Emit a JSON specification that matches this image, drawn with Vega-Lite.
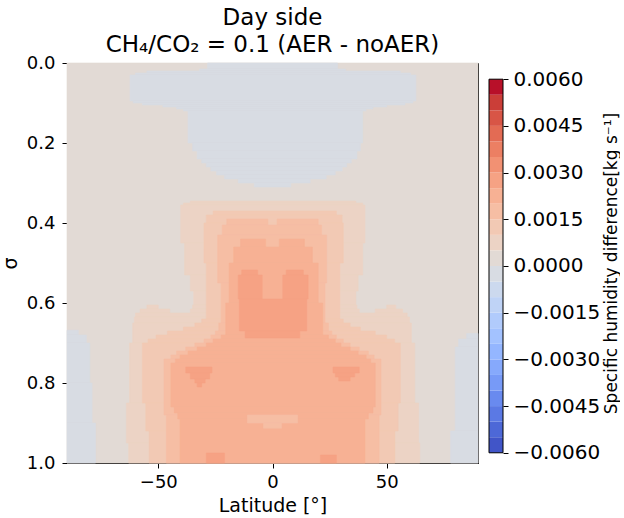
{
"$schema": "https://vega.github.io/schema/vega-lite/v6.json",
"background": "white",
"padding": {"left": 0, "top": 6, "right": 0, "bottom": 0},
"bounds": "flush",
"spacing": 11,
"config": {"font": "DejaVu Sans", "view": {"stroke": null},
  "axis": {"grid": false, "domainColor": "black", "tickColor": "black", "labelColor": "black", "titleColor": "black", "titleFontWeight": "normal", "labelFlush": false, "labelOverlap": false, "tickSize": 5}},
"datasets": {
"field": [
{"s0":0,"s1":1,"a":-90,"b":90,"q":0.00025},
{"s0":0,"s1":0.015,"a":-28.5,"b":28.5,"q":-0.00025},
{"s0":0.015,"s1":0.02,"a":-32,"b":32,"q":-0.00025},
{"s0":0.02,"s1":0.025,"a":-55,"b":56,"q":-0.00025},
{"s0":0.025,"s1":0.03,"a":-60,"b":60.5,"q":-0.00025},
{"s0":0.03,"s1":0.095,"a":-62.4,"b":62.8,"q":-0.00025},
{"s0":0.095,"s1":0.1,"a":-61,"b":61.5,"q":-0.00025},
{"s0":0.1,"s1":0.105,"a":-57,"b":58,"q":-0.00025},
{"s0":0.105,"s1":0.11,"a":-48,"b":50,"q":-0.00025},
{"s0":0.11,"s1":0.115,"a":-42,"b":44,"q":-0.00025},
{"s0":0.115,"s1":0.12,"a":-39,"b":41,"q":-0.00025},
{"s0":0.12,"s1":0.2,"a":-37,"b":39.5,"q":-0.00025},
{"s0":0.2,"s1":0.22,"a":-35,"b":38.5,"q":-0.00025},
{"s0":0.22,"s1":0.24,"a":-33,"b":37,"q":-0.00025},
{"s0":0.24,"s1":0.25,"a":-31,"b":34.5,"q":-0.00025},
{"s0":0.25,"s1":0.26,"a":-29,"b":32.5,"q":-0.00025},
{"s0":0.26,"s1":0.27,"a":-27,"b":30.5,"q":-0.00025},
{"s0":0.27,"s1":0.28,"a":-24.5,"b":27.5,"q":-0.00025},
{"s0":0.28,"s1":0.29,"a":-21,"b":23.5,"q":-0.00025},
{"s0":0.29,"s1":0.3,"a":-15,"b":16.5,"q":-0.00025},
{"s0":0.3,"s1":0.31,"a":-8,"b":8,"q":-0.00025},
{"s0":0.668,"s1":0.68,"a":-90,"b":-85,"q":-0.00025},
{"s0":0.68,"s1":0.7,"a":-90,"b":-81.5,"q":-0.00025},
{"s0":0.7,"s1":0.8,"a":-90,"b":-80,"q":-0.00025},
{"s0":0.8,"s1":0.9,"a":-90,"b":-79,"q":-0.00025},
{"s0":0.9,"s1":1,"a":-90,"b":-77.5,"q":-0.00025},
{"s0":0.676,"s1":0.69,"a":85,"b":90,"q":-0.00025},
{"s0":0.69,"s1":0.71,"a":81.5,"b":90,"q":-0.00025},
{"s0":0.71,"s1":0.92,"a":80,"b":90,"q":-0.00025},
{"s0":0.92,"s1":1,"a":78,"b":90,"q":-0.00025},
{"s0":0.345,"s1":0.35,"a":-36,"b":36.5,"q":0.00075},
{"s0":0.35,"s1":0.355,"a":-39,"b":39.5,"q":0.00075},
{"s0":0.355,"s1":0.45,"a":-40.2,"b":40.5,"q":0.00075},
{"s0":0.45,"s1":0.53,"a":-38.5,"b":39.5,"q":0.00075},
{"s0":0.53,"s1":0.57,"a":-36,"b":37.5,"q":0.00075},
{"s0":0.57,"s1":0.605,"a":-34.5,"b":36.5,"q":0.00075},
{"s0":0.605,"s1":0.615,"a":-55,"b":-50,"q":0.00075},
{"s0":0.605,"s1":0.615,"a":-35,"b":37,"q":0.00075},
{"s0":0.605,"s1":0.615,"a":50,"b":54,"q":0.00075},
{"s0":0.615,"s1":0.625,"a":-58,"b":-45,"q":0.00075},
{"s0":0.615,"s1":0.625,"a":-36,"b":38,"q":0.00075},
{"s0":0.615,"s1":0.625,"a":45,"b":57,"q":0.00075},
{"s0":0.625,"s1":0.635,"a":-60,"b":59,"q":0.00075},
{"s0":0.635,"s1":0.65,"a":-60.5,"b":60,"q":0.00075},
{"s0":0.65,"s1":0.7,"a":-61.2,"b":60.8,"q":0.00075},
{"s0":0.7,"s1":0.85,"a":-62.6,"b":62.3,"q":0.00075},
{"s0":0.85,"s1":0.95,"a":-64,"b":64,"q":0.00075},
{"s0":0.95,"s1":1,"a":-63,"b":64.5,"q":0.00075},
{"s0":0.37,"s1":0.38,"a":-26,"b":28,"q":0.00125},
{"s0":0.38,"s1":0.4,"a":-29,"b":30.5,"q":0.00125},
{"s0":0.4,"s1":0.5,"a":-30,"b":31,"q":0.00125},
{"s0":0.5,"s1":0.64,"a":-29,"b":29.5,"q":0.00125},
{"s0":0.64,"s1":0.65,"a":-31,"b":31,"q":0.00125},
{"s0":0.65,"s1":0.66,"a":-34,"b":34,"q":0.00125},
{"s0":0.66,"s1":0.67,"a":-39,"b":38.5,"q":0.00125},
{"s0":0.67,"s1":0.68,"a":-46,"b":45,"q":0.00125},
{"s0":0.68,"s1":0.69,"a":-51,"b":50,"q":0.00125},
{"s0":0.69,"s1":0.7,"a":-54.5,"b":53.5,"q":0.00125},
{"s0":0.7,"s1":0.85,"a":-57,"b":56,"q":0.00125},
{"s0":0.85,"s1":0.92,"a":-55.5,"b":55,"q":0.00125},
{"s0":0.92,"s1":1,"a":-54,"b":53.6,"q":0.00125},
{"s0":0.39,"s1":0.405,"a":-20,"b":-2,"q":0.00175},
{"s0":0.39,"s1":0.405,"a":2,"b":20,"q":0.00175},
{"s0":0.405,"s1":0.43,"a":-22,"b":21.5,"q":0.00175},
{"s0":0.43,"s1":0.55,"a":-24,"b":23.7,"q":0.00175},
{"s0":0.55,"s1":0.65,"a":-22.5,"b":23,"q":0.00175},
{"s0":0.65,"s1":0.67,"a":-23.5,"b":24.5,"q":0.00175},
{"s0":0.67,"s1":0.68,"a":-25,"b":26,"q":0.00175},
{"s0":0.68,"s1":0.69,"a":-27,"b":28,"q":0.00175},
{"s0":0.69,"s1":0.7,"a":-30,"b":31,"q":0.00175},
{"s0":0.7,"s1":0.71,"a":-34,"b":34,"q":0.00175},
{"s0":0.71,"s1":0.72,"a":-38,"b":38,"q":0.00175},
{"s0":0.72,"s1":0.73,"a":-42,"b":42,"q":0.00175},
{"s0":0.73,"s1":0.74,"a":-44.5,"b":44.5,"q":0.00175},
{"s0":0.74,"s1":0.88,"a":-47.5,"b":47.5,"q":0.00175},
{"s0":0.88,"s1":1,"a":-46.5,"b":46.7,"q":0.00175},
{"s0":0.44,"s1":0.46,"a":-14,"b":-3,"q":0.00225},
{"s0":0.44,"s1":0.46,"a":3,"b":14,"q":0.00225},
{"s0":0.46,"s1":0.5,"a":-17,"b":17.5,"q":0.00225},
{"s0":0.5,"s1":0.6,"a":-19,"b":20,"q":0.00225},
{"s0":0.6,"s1":0.68,"a":-20.5,"b":22,"q":0.00225},
{"s0":0.68,"s1":0.69,"a":-22.5,"b":24.5,"q":0.00225},
{"s0":0.69,"s1":0.7,"a":-26,"b":27.5,"q":0.00225},
{"s0":0.7,"s1":0.71,"a":-29,"b":30,"q":0.00225},
{"s0":0.71,"s1":0.72,"a":-33,"b":34,"q":0.00225},
{"s0":0.72,"s1":0.73,"a":-37,"b":37.5,"q":0.00225},
{"s0":0.73,"s1":0.74,"a":-40.5,"b":41,"q":0.00225},
{"s0":0.74,"s1":0.75,"a":-42.5,"b":43,"q":0.00225},
{"s0":0.75,"s1":0.86,"a":-44.5,"b":45,"q":0.00225},
{"s0":0.86,"s1":0.875,"a":-43,"b":44,"q":0.00225},
{"s0":0.875,"s1":0.89,"a":-41.5,"b":42,"q":0.00225},
{"s0":0.89,"s1":1,"a":-40.5,"b":40.5,"q":0.00225},
{"s0":0.5175,"s1":0.53,"a":-13.5,"b":-6.5,"q":0.00275},
{"s0":0.5175,"s1":0.53,"a":6,"b":13.5,"q":0.00275},
{"s0":0.53,"s1":0.59,"a":-15,"b":-4.5,"q":0.00275},
{"s0":0.53,"s1":0.59,"a":4.5,"b":15.6,"q":0.00275},
{"s0":0.59,"s1":0.67,"a":-14.5,"b":15,"q":0.00275},
{"s0":0.67,"s1":0.6875,"a":-12,"b":12,"q":0.00275},
{"s0":0.76,"s1":0.775,"a":-38,"b":-26.5,"q":0.00275},
{"s0":0.775,"s1":0.79,"a":-36,"b":-27.5,"q":0.00275},
{"s0":0.79,"s1":0.8,"a":-34,"b":-29.5,"q":0.00275},
{"s0":0.8,"s1":0.81,"a":-33,"b":-31,"q":0.00275},
{"s0":0.76,"s1":0.775,"a":26.5,"b":38,"q":0.00275},
{"s0":0.775,"s1":0.785,"a":27.5,"b":36,"q":0.00275},
{"s0":0.785,"s1":0.795,"a":29,"b":34,"q":0.00275},
{"s0":0.975,"s1":1,"a":-29,"b":-21,"q":0.00275},
{"s0":0.98,"s1":1,"a":21,"b":28,"q":0.00275},
{"s0":0.88,"s1":0.9,"a":-11,"b":11,"q":0.00175},
{"s0":0.9,"s1":0.913,"a":-4,"b":4,"q":0.00175}
],
"bar": [
{"lo":-0.006,"hi":-0.0055,"v":-0.00575},{"lo":-0.0055,"hi":-0.005,"v":-0.00525},{"lo":-0.005,"hi":-0.0045,"v":-0.00475},{"lo":-0.0045,"hi":-0.004,"v":-0.00425},
{"lo":-0.004,"hi":-0.0035,"v":-0.00375},{"lo":-0.0035,"hi":-0.003,"v":-0.00325},{"lo":-0.003,"hi":-0.0025,"v":-0.00275},{"lo":-0.0025,"hi":-0.002,"v":-0.00225},
{"lo":-0.002,"hi":-0.0015,"v":-0.00175},{"lo":-0.0015,"hi":-0.001,"v":-0.00125},{"lo":-0.001,"hi":-0.0005,"v":-0.00075},{"lo":-0.0005,"hi":0,"v":-0.00025},
{"lo":0,"hi":0.0005,"v":0.00025},{"lo":0.0005,"hi":0.001,"v":0.00075},{"lo":0.001,"hi":0.0015,"v":0.00125},{"lo":0.0015,"hi":0.002,"v":0.00175},
{"lo":0.002,"hi":0.0025,"v":0.00225},{"lo":0.0025,"hi":0.003,"v":0.00275},{"lo":0.003,"hi":0.0035,"v":0.00325},{"lo":0.0035,"hi":0.004,"v":0.00375},
{"lo":0.004,"hi":0.0045,"v":0.00425},{"lo":0.0045,"hi":0.005,"v":0.00475},{"lo":0.005,"hi":0.0055,"v":0.00525},{"lo":0.0055,"hi":0.006,"v":0.00575}
]
},
"resolve": {"scale": {"color": "shared"}},
"hconcat": [
{
 "width": 411, "height": 400,
 "title": {"text": ["Day side", "CH₄/CO₂ = 0.1 (AER - noAER)"], "fontSize": 23, "fontWeight": "normal", "lineHeight": 27, "offset": -3, "color": "black"},
 "view": {"stroke": "black", "strokeWidth": 1},
 "data": {"name": "field"},
 "mark": {"type": "rect", "strokeWidth": 0.6},
 "encoding": {
  "x": {"field": "a", "type": "quantitative", "scale": {"domain": [-90, 90], "nice": false, "zero": false},
        "axis": {"values": [-50, 0, 50], "format": "d", "title": "Latitude [°]", "labelFontSize": 18, "titleFontSize": 19, "labelPadding": 5, "titlePadding": 5}},
  "x2": {"field": "b"},
  "y": {"field": "s0", "type": "quantitative", "scale": {"domain": [0, 1], "reverse": true, "nice": false, "zero": false},
        "axis": {"values": [0, 0.2, 0.4, 0.6, 0.8, 1], "format": ".1f", "title": "σ", "labelFontSize": 18, "titleFontSize": 19, "labelPadding": 7, "titlePadding": 6}},
  "y2": {"field": "s1"},
  "color": {"field": "q", "type": "quantitative", "legend": null,
    "scale": {"type": "threshold", "domain": [-0.0055,-0.005,-0.0045,-0.004,-0.0035,-0.003,-0.0025,-0.002,-0.0015,-0.001,-0.0005,0,0.0005,0.001,0.0015,0.002,0.0025,0.003,0.0035,0.004,0.0045,0.005,0.0055],
      "range": ["#4155C8","#4D68D7","#5B79E4","#698AEF","#779AF7","#86A9FC","#94B6FF","#A3C2FF","#B1CBFC","#BFD3F6","#CCD9EE","#D8DCE3","#E2DAD5","#ECD3C5","#F2C9B4","#F6BEA4","#F7B194","#F6A284","#F29173","#EC7F63","#E36B54","#D85546","#CB3E38","#B81029"]}},
  "stroke": {"field": "q", "type": "quantitative", "legend": null,
    "scale": {"type": "threshold", "domain": [-0.0055,-0.005,-0.0045,-0.004,-0.0035,-0.003,-0.0025,-0.002,-0.0015,-0.001,-0.0005,0,0.0005,0.001,0.0015,0.002,0.0025,0.003,0.0035,0.004,0.0045,0.005,0.0055],
      "range": ["#4155C8","#4D68D7","#5B79E4","#698AEF","#779AF7","#86A9FC","#94B6FF","#A3C2FF","#B1CBFC","#BFD3F6","#CCD9EE","#D8DCE3","#E2DAD5","#ECD3C5","#F2C9B4","#F6BEA4","#F7B194","#F6A284","#F29173","#EC7F63","#E36B54","#D85546","#CB3E38","#B81029"]}}
 }
},
{
 "width": 14, "height": 400,
 "layer": [
  {
   "data": {"name": "bar"},
   "mark": {"type": "rect"},
   "encoding": {
    "y": {"field": "lo", "type": "quantitative", "scale": {"domain": [-0.006328, 0.00652], "nice": false, "zero": false},
          "axis": {"orient": "right", "values": [-0.006,-0.0045,-0.003,-0.0015,0,0.0015,0.003,0.0045,0.006], "format": ".4f", "domain": false,
                   "title": "Specific humidity difference[kg s⁻¹]", "titleAngle": 270, "titleBaseline": "top", "labelFontSize": 20, "titleFontSize": 17, "labelPadding": 5, "titlePadding": 4}},
    "y2": {"field": "hi"},
    "color": {"field": "v", "type": "quantitative", "legend": null,
      "scale": {"type": "threshold", "domain": [-0.0055,-0.005,-0.0045,-0.004,-0.0035,-0.003,-0.0025,-0.002,-0.0015,-0.001,-0.0005,0,0.0005,0.001,0.0015,0.002,0.0025,0.003,0.0035,0.004,0.0045,0.005,0.0055],
      "range": ["#4155C8","#4D68D7","#5B79E4","#698AEF","#779AF7","#86A9FC","#94B6FF","#A3C2FF","#B1CBFC","#BFD3F6","#CCD9EE","#D8DCE3","#E2DAD5","#ECD3C5","#F2C9B4","#F6BEA4","#F7B194","#F6A284","#F29173","#EC7F63","#E36B54","#D85546","#CB3E38","#B81029"]}}
   }
  },
  {
   "data": {"values": [{}]},
   "mark": {"type": "rect", "fill": "transparent", "stroke": "black", "strokeWidth": 1},
   "encoding": {"y": {"datum": -0.006, "type": "quantitative"}, "y2": {"datum": 0.006}}
  }
 ]
}
]
}
